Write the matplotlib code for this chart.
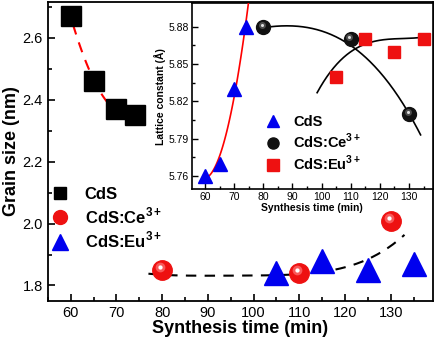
import numpy as np
import matplotlib.pyplot as plt
from matplotlib.lines import Line2D
from matplotlib.transforms import offset_copy

plt.rcParams['font.family'] = ['Liberation Sans', 'DejaVu Sans']
plt.rcParams['mathtext.fontset'] = 'custom'
plt.rcParams['mathtext.rm'] = 'Liberation Sans'
plt.rcParams['mathtext.bf'] = 'Liberation Sans:bold'

# main panel: grain size
cds_t = [60, 65, 70, 74]
cds_size = [2.67, 2.46, 2.37, 2.35]
ce_t = [80, 110, 130]
ce_size = [1.85, 1.84, 2.01]
eu_t = [105, 115, 125, 135]
eu_size = [1.84, 1.88, 1.85, 1.87]
# dashed trend line
doped_fit_t = [77, 90, 100, 110, 115, 120, 125, 130, 133]
doped_fit_size = [1.838, 1.832, 1.832, 1.835, 1.845, 1.861, 1.884, 1.926, 1.965]

# inset: lattice constant
in_cds_t = [60, 65, 70, 74]
in_cds_a = [5.76, 5.77, 5.83, 5.88]
in_ce_t = [80, 110, 130]
in_ce_a = [5.88, 5.87, 5.81]
in_eu_t = [105, 115, 125, 135]
in_eu_a = [5.84, 5.87, 5.86, 5.87]
ce_fit_t = [80, 90, 100, 110, 113, 120.4, 130, 134]
ce_fit_a = [5.88, 5.879, 5.876, 5.868, 5.861, 5.839, 5.81, 5.794]
eu_fit_t = [98.5, 109.5, 119.7, 136]
eu_fit_a = [5.827, 5.859, 5.869, 5.872]


def spheres(ax, x, y, ms, base, mid, hi):
    ax.plot(x, y, 'o', ms=ms, color=base, mec=base, zorder=5)
    tr = offset_copy(ax.transData, fig=ax.figure, x=-ms * 0.1, y=ms * 0.15, units='points')
    ax.plot(x, y, 'o', ms=ms * 0.5, color=mid, mec='none', alpha=0.7, transform=tr, zorder=6)
    ax.plot(x, y, 'o', ms=ms * 0.22, color=hi, mec='none', transform=tr, zorder=7)


fig = plt.figure(figsize=(4.35, 3.42), dpi=100)
ax = fig.add_axes([0.110, 0.120, 0.885, 0.874])

# fitted curves
p = np.polyfit(cds_t, cds_size, 2)
xx = np.linspace(60.5, 73, 100)
ax.plot(xx, np.polyval(p, xx), '--', color='red', lw=1.5, dashes=(5, 4), zorder=3)
p = np.polyfit(doped_fit_t, doped_fit_size, 4)
xx = np.linspace(77, 133, 200)
ax.plot(xx, np.polyval(p, xx), '--', color='black', lw=1.5, dashes=(5, 4), zorder=3)

ax.plot(cds_t, cds_size, 's', ms=14, color='black', zorder=5)
ax.plot(eu_t, eu_size, '^', ms=17, color='#0000ee', mec='#0000ee', zorder=5)
spheres(ax, ce_t, ce_size, 14, '#ee1111', '#ff7777', 'white')

ax.set_xlim(55, 139.2)
ax.set_ylim(1.75, 2.716)
ax.set_xticks([60, 70, 80, 90, 100, 110, 120, 130])
ax.set_xticks(np.arange(55, 139, 5), minor=True)
ax.set_yticks([1.8, 2.0, 2.2, 2.4, 2.6])
ax.set_yticks(np.arange(1.8, 2.71, 0.1), minor=True)
ax.tick_params(direction='in', which='both', labelsize=10.5, width=1.2)
ax.tick_params(which='major', length=5)
ax.tick_params(which='minor', length=3)
for s in ax.spines.values():
    s.set_linewidth(1.3)
ax.set_xlabel('Synthesis time (min)', fontsize=13, fontweight='bold', labelpad=0)
ax.set_ylabel('Grain size (nm)', fontsize=13, fontweight='bold', labelpad=2)

handles = [
    Line2D([], [], ls='none', marker='s', ms=9, color='black'),
    Line2D([], [], ls='none', marker='o', ms=10, color='#ee1111'),
    Line2D([], [], ls='none', marker='^', ms=11, color='#0000ee'),
]
labels = ['CdS', r'CdS:Ce$^{\mathbf{3+}}$', r'CdS:Eu$^{\mathbf{3+}}$']
fig.legend(handles, labels, loc='upper left', bbox_to_anchor=(0.08, 0.497),
           frameon=False, prop={'weight': 'bold', 'size': 12},
           handlelength=1.2, handletextpad=0.9, labelspacing=0.22)

# inset
ins = fig.add_axes([0.441, 0.447, 0.554, 0.544])
p = np.polyfit(in_cds_t, in_cds_a, 2)
xx = np.linspace(59, 77, 100)
ins.plot(xx, np.polyval(p, xx), '-', color='red', lw=1.2, zorder=3)
p = np.polyfit(ce_fit_t, ce_fit_a, 3)
xx = np.linspace(80, 134, 200)
ins.plot(xx, np.polyval(p, xx), '-', color='black', lw=1.2, zorder=3)
p = np.polyfit(eu_fit_t, eu_fit_a, 3)
xx = np.linspace(98.5, 136, 200)
ins.plot(xx, np.polyval(p, xx), '-', color='black', lw=1.2, zorder=3)

ins.plot(in_cds_t, in_cds_a, '^', ms=10, color='#0000ee', zorder=5)
ins.plot(in_eu_t, in_eu_a, 's', ms=9, color='#ee1111', zorder=5)
spheres(ins, in_ce_t, in_ce_a, 10, '#111111', '#666666', '#dddddd')

ins.set_xlim(55.5, 138.2)
ins.set_ylim(5.7495, 5.899)
ins.set_xticks([60, 70, 80, 90, 100, 110, 120, 130])
ins.set_xticks(np.arange(60, 138, 5), minor=True)
ins.set_yticks([5.76, 5.79, 5.82, 5.85, 5.88])
ins.set_yticks(np.arange(5.76, 5.895, 0.015), minor=True)
ins.tick_params(direction='in', which='both', labelsize=7.5, width=1)
ins.tick_params(which='major', length=4, pad=2)
ins.tick_params(which='minor', length=2)
for s in ins.spines.values():
    s.set_linewidth(1.2)
ins.set_xlabel('Synthesis time (min)', fontsize=7.5, fontweight='bold', labelpad=1)
ins.set_ylabel('Lattice constant (Å)', fontsize=7.5, fontweight='bold', labelpad=2)

handles = [
    Line2D([], [], ls='none', marker='^', ms=9, color='#0000ee'),
    Line2D([], [], ls='none', marker='o', ms=8, color='#111111'),
    Line2D([], [], ls='none', marker='s', ms=8, color='#ee1111'),
]
ins.legend(handles, ['CdS', r'CdS:Ce$^{\mathbf{3+}}$', r'CdS:Eu$^{\mathbf{3+}}$'],
           loc='upper left', bbox_to_anchor=(0.25, 0.47), frameon=False,
           prop={'weight': 'bold', 'size': 10.5}, handlelength=1.1,
           handletextpad=0.8, labelspacing=0.2)

fig.savefig('out.png', dpi=100)
